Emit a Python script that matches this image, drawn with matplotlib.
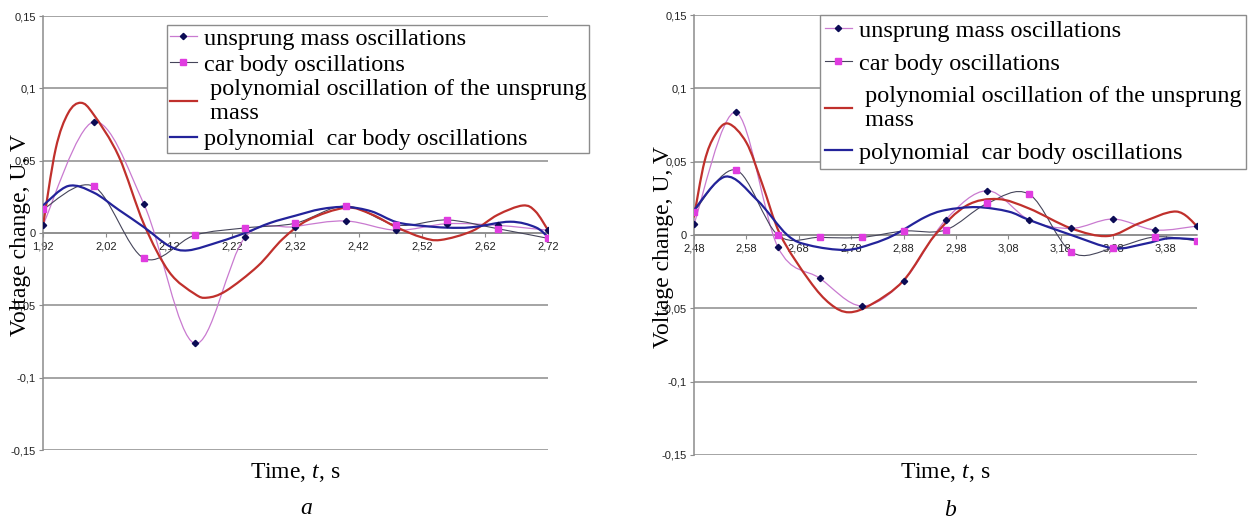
import numpy as np
import matplotlib
matplotlib.use("Agg")
import matplotlib.pyplot as plt
from matplotlib.path import Path
from matplotlib.patches import PathPatch
from matplotlib.lines import Line2D

plt.rcParams['mathtext.fontset'] = 'custom'
plt.rcParams['mathtext.rm'] = 'Liberation Serif'
plt.rcParams['mathtext.it'] = 'Liberation Serif:italic'

# ---------------- data: panel a ----------------
t_a = [1.92, 2.00, 2.08, 2.16, 2.24, 2.32, 2.40, 2.48, 2.56, 2.64, 2.72]
unsprung_a = [0.0055, 0.0768, 0.0198, -0.0763, -0.0030, 0.0044, 0.0083, 0.0019, 0.0064, 0.0053, 0.0019]
body_a = [0.0164, 0.0323, -0.0175, -0.0016, 0.0035, 0.0068, 0.0187, 0.0055, 0.0090, 0.0030, -0.0037]

poly_unsprung_a_t = [1.92, 1.94, 1.96, 1.98, 2.00, 2.04, 2.08, 2.12, 2.16, 2.18, 2.21, 2.26, 2.30,
                     2.34, 2.40, 2.44, 2.48, 2.52, 2.55, 2.60, 2.64, 2.68, 2.70, 2.72]
poly_unsprung_a_v = [0.005, 0.058, 0.083, 0.090, 0.082, 0.053, 0.006, -0.027, -0.042, -0.0447, -0.040,
                     -0.023, -0.004, 0.009, 0.0175, 0.013, 0.004, -0.003, -0.0048, 0.0014, 0.0125,
                     0.019, 0.015, 0.002]
poly_body_a_t = [1.92, 1.96, 2.00, 2.04, 2.08, 2.12, 2.15, 2.20, 2.24, 2.28, 2.32, 2.36, 2.40, 2.44,
                 2.48, 2.52, 2.56, 2.60, 2.66, 2.70, 2.72]
poly_body_a_v = [0.019, 0.0325, 0.028, 0.016, 0.004, -0.009, -0.012, -0.006, 0.0, 0.007, 0.012, 0.0165,
                 0.018, 0.015, 0.0075, 0.005, 0.0037, 0.004, 0.0078, 0.004, -0.0028]

xticks_a = [1.92, 2.02, 2.12, 2.22, 2.32, 2.42, 2.52, 2.62, 2.72]
xticklabels_a = ["1,92", "2,02", "2,12", "2,22", "2,32", "2,42", "2,52", "2,62", "2,72"]

# ---------------- data: panel b ----------------
t_b = [2.48, 2.56, 2.64, 2.72, 2.80, 2.88, 2.96, 3.04, 3.12, 3.20, 3.28, 3.36, 3.44]
unsprung_b = [0.0075, 0.0836, -0.0082, -0.0295, -0.0484, -0.0312, 0.0102, 0.0302, 0.0102, 0.0045,
              0.0109, 0.0034, 0.0061]
body_b = [0.016, 0.0443, 0.0000, -0.0016, -0.0016, 0.0027, 0.0034, 0.0216, 0.0277, -0.0116, -0.0090,
          -0.0013, -0.0040]

poly_unsprung_b_t = [2.48, 2.50, 2.52, 2.545, 2.58, 2.61, 2.645, 2.70, 2.74, 2.776, 2.82, 2.88, 2.94,
                     3.00, 3.06, 3.12, 3.20, 3.27, 3.33, 3.40, 3.44]
poly_unsprung_b_v = [0.0125, 0.050, 0.068, 0.076, 0.063, 0.035, 0.0, -0.031, -0.047, -0.0527, -0.047,
                     -0.031, 0.0, 0.020, 0.0245, 0.018, 0.0045, -0.0007, 0.008, 0.016, 0.0061]
poly_body_b_t = [2.48, 2.54, 2.60, 2.658, 2.70, 2.77, 2.82, 2.862, 2.92, 2.96, 3.02, 3.08, 3.12, 3.20,
                 3.28, 3.34, 3.385, 3.44]
poly_body_b_v = [0.017, 0.0398, 0.024, 0.0, -0.007, -0.0102, -0.006, 0.0, 0.012, 0.017, 0.019, 0.016,
                 0.0102, 0.0, -0.009, -0.006, -0.0023, -0.003]

xticks_b = [2.48, 2.58, 2.68, 2.78, 2.88, 2.98, 3.08, 3.18, 3.28, 3.38]
xticklabels_b = ["2,48", "2,58", "2,68", "2,78", "2,88", "2,98", "3,08", "3,18", "3,28", "3,38"]

yticks = [-0.15, -0.10, -0.05, 0.0, 0.05, 0.10, 0.15]
yticklabels = ["-0,15", "-0,1", "-0,05", "0", "0,05", "0,1", "0,15"]

legend_labels = ["unsprung mass oscillations",
                 "car body oscillations",
                 " polynomial oscillation of the unsprung\n mass",
                 "polynomial  car body oscillations"]

# ---------------- styles ----------------
C_VIOLET = "#c97ad0"
C_NAVY_MK = "#0b0b55"
C_GRAY = "#45455a"
C_MAGENTA = "#e03ce0"
C_RED = "#c0302c"
C_BLUE = "#23239a"
C_GRID = "#8c8c8c"


def smooth_path(xs, ys):
    pts = np.column_stack([xs, ys]).astype(float)
    n = len(pts)
    verts = [pts[0]]
    codes = [Path.MOVETO]
    for i in range(n - 1):
        p0 = pts[i - 1] if i > 0 else pts[i]
        p1 = pts[i]
        p2 = pts[i + 1]
        p3 = pts[i + 2] if i + 2 < n else pts[i + 1]
        verts += [p1 + (p2 - p0) / 6.0, p2 - (p3 - p1) / 6.0, p2]
        codes += [Path.CURVE4] * 3
    return Path(verts, codes)


def draw_curve(ax, xs, ys, color, lw, z):
    ax.add_patch(PathPatch(smooth_path(xs, ys), facecolor="none", edgecolor=color,
                           lw=lw, zorder=z, transform=ax.transData, capstyle="round",
                           joinstyle="round"))


def style_axes(ax, xlim, xticks, xlabels):
    ax.set_xlim(*xlim)
    ax.set_ylim(-0.15, 0.15)
    ax.set_yticks(yticks)
    ax.set_yticklabels(yticklabels)
    ax.set_xticks(xticks)
    ax.set_xticklabels(xlabels)
    for s in ["top", "right"]:
        ax.spines[s].set_visible(False)
    ax.spines["bottom"].set_position(("data", 0))
    ax.spines["bottom"].set_color(C_GRID)
    ax.spines["left"].set_color(C_GRID)
    ax.spines["bottom"].set_linewidth(1.1)
    ax.spines["left"].set_linewidth(1.1)
    ax.grid(axis="y", color=C_GRID, lw=1.1, zorder=0)
    ax.set_axisbelow(True)
    ax.tick_params(axis="both", direction="out", length=3, width=0.8, color=C_GRID,
                   labelsize=8, labelcolor="#222222", pad=2)
    ax.tick_params(axis="x", pad=3)
    for lab in ax.get_xticklabels() + ax.get_yticklabels():
        lab.set_fontfamily("Liberation Sans")


def panel(ax, t, uns, body, pu_t, pu_v, pb_t, pb_v, xlim, xticks, xlabels,
          ylab_xy, xlab_y, leg_anchor, leg_pad, leg_spacing):
    style_axes(ax, xlim, xticks, xlabels)
    draw_curve(ax, t, uns, C_VIOLET, 0.9, 3)
    draw_curve(ax, t, body, C_GRAY, 0.8, 3)
    draw_curve(ax, pu_t, pu_v, C_RED, 1.6, 4)
    draw_curve(ax, pb_t, pb_v, C_BLUE, 1.6, 4)
    ax.plot(t, uns, linestyle="none", marker="D", ms=3.2, color=C_NAVY_MK, zorder=5)
    ax.plot(t, body, linestyle="none", marker="s", ms=3.8, color=C_MAGENTA, zorder=5)

    ax.set_ylabel("Voltage change, U, V", fontsize=17, family="Liberation Serif")
    ax.yaxis.label.set_va("center")
    ax.yaxis.set_label_coords(*ylab_xy)
    ax.set_xlabel("Time, $\\mathit{t}$, s", fontsize=17, family="Liberation Serif")
    ax.xaxis.set_label_coords(0.5, xlab_y)
    ax.xaxis.label.set_va("center")

    handles = [Line2D([], [], color=C_VIOLET, lw=0.9, marker="D", ms=3.2, mfc=C_NAVY_MK, mec=C_NAVY_MK),
               Line2D([], [], color=C_GRAY, lw=0.8, marker="s", ms=3.8, mfc=C_MAGENTA, mec=C_MAGENTA),
               Line2D([], [], color=C_RED, lw=1.6),
               Line2D([], [], color=C_BLUE, lw=1.6)]
    leg = ax.legend(handles, legend_labels, loc="upper left", bbox_to_anchor=leg_anchor,
                    bbox_transform=fig.transFigure, prop={"family": "Liberation Serif", "size": 17.5},
                    frameon=True, fancybox=False, edgecolor="#8c8c8c", framealpha=1,
                    borderpad=leg_pad, labelspacing=leg_spacing, handlelength=1.1,
                    handletextpad=0.3, borderaxespad=0)
    leg.get_frame().set_linewidth(1.0)
    for txt in leg.get_texts():
        txt.set_linespacing(1.2)
    leg.set_zorder(10)
    return leg


W, H = 1250, 524
fig = plt.figure(figsize=(W / 100, H / 100), dpi=100)

ax_a = fig.add_axes([43 / W, 1 - 450 / H, 505 / W, 434 / H])
ax_b = fig.add_axes([694 / W, 1 - 455 / H, 503 / W, 440 / H])

panel(ax_a, t_a, unsprung_a, body_a, poly_unsprung_a_t, poly_unsprung_a_v,
      poly_body_a_t, poly_body_a_v, (1.92, 2.72), xticks_a, xticklabels_a,
      ((21 - 43) / 505, (450 - 235) / 434), -(473 - 450) / 434, (167 / W, 1 - 25 / H),
      0.12, 0.15)
panel(ax_b, t_b, unsprung_b, body_b, poly_unsprung_b_t, poly_unsprung_b_v,
      poly_body_b_t, poly_body_b_v, (2.48, 3.44), xticks_b, xticklabels_b,
      ((664 - 694) / 503, (455 - 247) / 440), -(473 - 455) / 440, (820 / W, 1 - 15 / H),
      0.2, 0.45)

fig.text(306 / W, 1 - 508 / H, "a", fontsize=17, family="Liberation Serif", style="italic",
         ha="center", va="center")
fig.text(950 / W, 1 - 510 / H, "b", fontsize=17, family="Liberation Serif", style="italic",
         ha="center", va="center")

fig.savefig("out.png", dpi=100, facecolor="white")
